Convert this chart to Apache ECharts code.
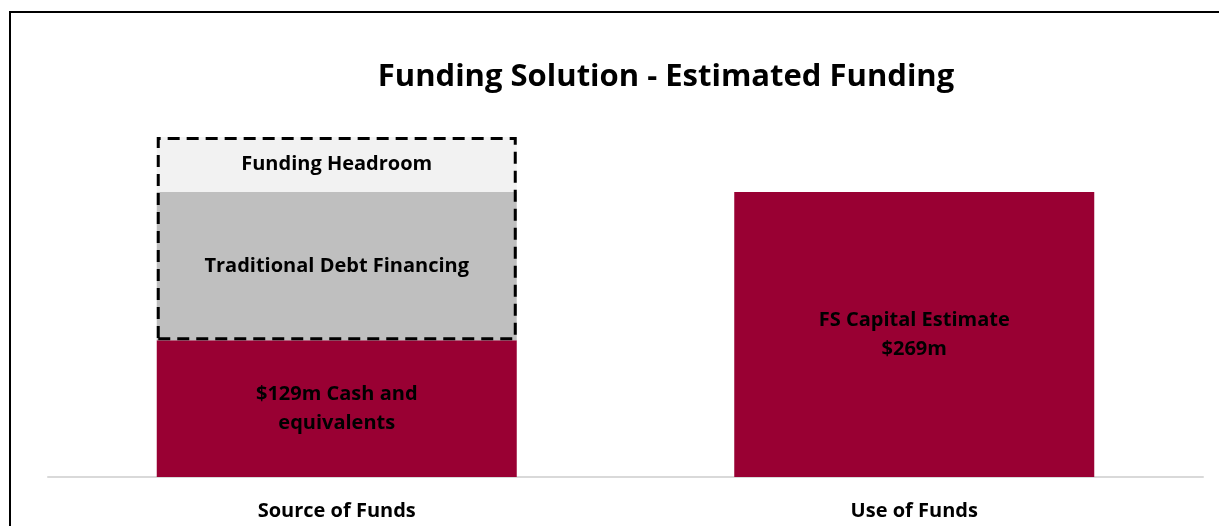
<!DOCTYPE html>
<html>
<head>
<meta charset="utf-8">
<script src="https://cdn.jsdelivr.net/npm/echarts@6/dist/echarts.min.js"></script>
<style>
  html, body { margin: 0; padding: 0; background: #fff; }
  #chart { width: 1219px; height: 526px; }
</style>
</head>
<body>
<div id="chart"></div>
<script>
// Categories along the x axis
const categories = ['Source of Funds', 'Use of Funds'];

// Stacked components, $m
const cashValues     = [129, '-'];
const debtValues     = [140, '-'];
const headroomValues = [52, '-'];
const capitalValues  = ['-', 269];

// In-bar labels
const cashLabel     = '$129m Cash and\nequivalents';
const debtLabel     = 'Traditional Debt Financing';
const headroomLabel = 'Funding Headroom';
const capitalLabel  = 'FS Capital Estimate\n$269m';

const FONT = '"Open Sans", "Noto Sans", sans-serif';
const MAROON = '#990033';

// Dashed frame around the financing pieces: transparent base of cash, then debt + headroom
const frameBase = cashValues.map(v => v);
const frameValues = debtValues.map((v, i) =>
  (v === '-' ? '-' : v + headroomValues[i]));

function inLabel(text) {
  return {
    show: true,
    position: 'inside',
    formatter: text,
    color: '#000',
    fontFamily: FONT,
    fontWeight: 'bold',
    fontSize: 20,
    lineHeight: 29
  };
}

const chart = echarts.init(document.getElementById('chart'), null, { renderer: 'canvas' });

chart.setOption({
  animation: false,
  backgroundColor: '#fff',
  title: {
    text: 'Funding Solution - Estimated Funding',
    left: 661,
    top: 57,
    textAlign: 'center',
    textStyle: {
      fontFamily: FONT,
      fontWeight: 'bold',
      fontSize: 31,
      color: '#000'
    }
  },
  graphic: [{
    type: 'rect',
    shape: { x: 10, y: 12, width: 1250, height: 600 },
    style: { fill: 'transparent', stroke: '#000', lineWidth: 2 },
    silent: true,
    z: 100
  }],
  grid: { left: 48, right: 16, top: 95.6, bottom: 49 },
  xAxis: {
    type: 'category',
    data: categories,
    axisLine: { show: true, lineStyle: { color: '#d9d9d9', width: 2 } },
    axisTick: { show: false },
    axisLabel: {
      color: '#000',
      fontFamily: FONT,
      fontWeight: 'bold',
      fontSize: 20,
      margin: 24
    }
  },
  yAxis: {
    type: 'value',
    min: 0,
    max: 360,
    show: false,
    splitLine: { show: false }
  },
  series: [
    {
      name: 'Cash',
      type: 'bar',
      stack: 'funds',
      barWidth: 360,
      barGap: '-100%',
      data: cashValues,
      itemStyle: { color: MAROON },
      label: inLabel(cashLabel)
    },
    {
      name: 'Debt',
      type: 'bar',
      stack: 'funds',
      barWidth: 360,
      data: debtValues,
      itemStyle: { color: '#bfbfbf' },
      label: inLabel(debtLabel)
    },
    {
      name: 'Headroom',
      type: 'bar',
      stack: 'funds',
      barWidth: 360,
      data: headroomValues,
      itemStyle: { color: '#f2f2f2' },
      label: inLabel(headroomLabel)
    },
    {
      name: 'Capital',
      type: 'bar',
      stack: 'funds',
      barWidth: 360,
      data: capitalValues,
      itemStyle: { color: MAROON },
      label: inLabel(capitalLabel)
    },
    {
      name: 'FrameBase',
      type: 'bar',
      stack: 'frame',
      barWidth: 360,
      barGap: '-100%',
      data: frameBase,
      itemStyle: { color: 'transparent' },
      silent: true
    },
    {
      name: 'Frame',
      type: 'bar',
      stack: 'frame',
      barWidth: 360,
      data: frameValues,
      itemStyle: {
        color: 'transparent',
        borderColor: '#000',
        borderWidth: 3,
        borderType: [12, 7]
      },
      silent: true
    }
  ]
});
</script>
</body>
</html>
